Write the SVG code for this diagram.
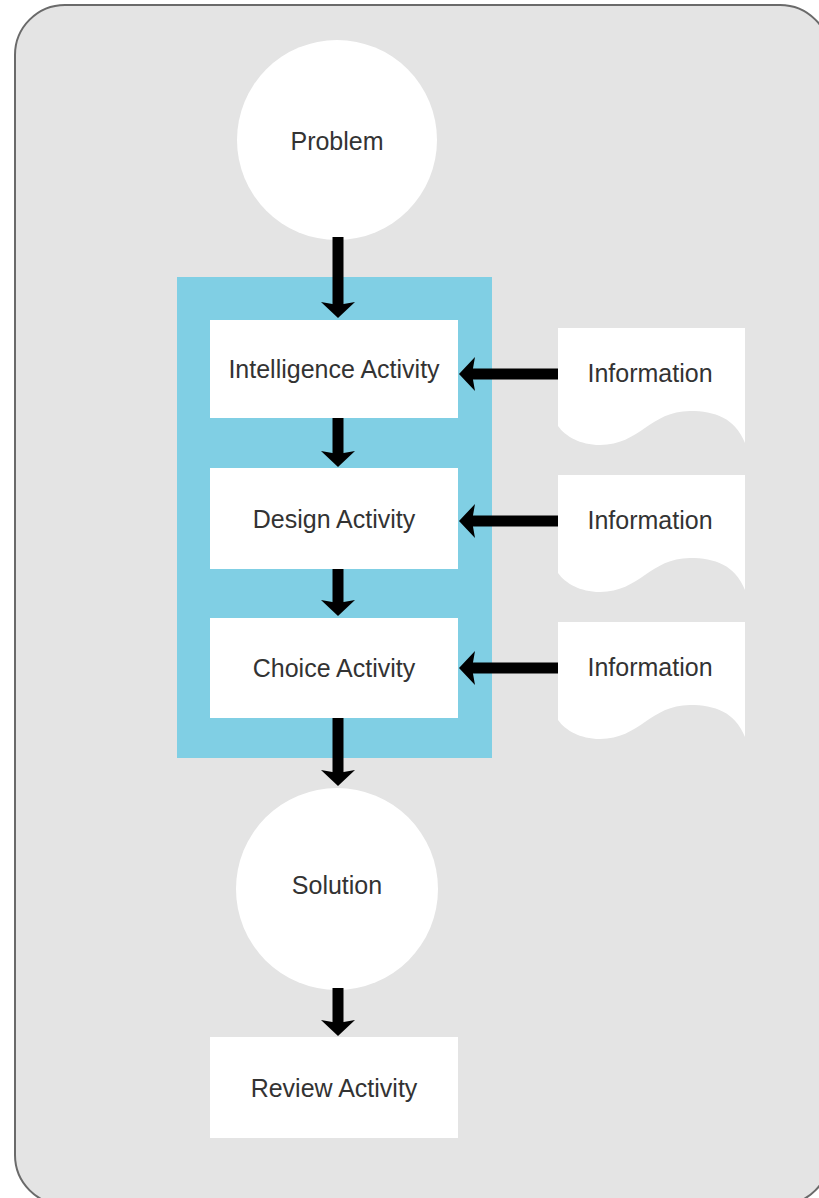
<svg xmlns="http://www.w3.org/2000/svg" width="819" height="1198" viewBox="0 0 819 1198">
  <style>
    .lbl { font-family: "Liberation Sans", Arial, sans-serif; font-size: 25px; fill: #333333; text-anchor: middle; }
    .node { fill: #ffffff; }
    .conn { stroke: #000000; stroke-width: 11; fill: none; marker-end: url(#head); }
  </style>
  <defs>
    <marker id="head" viewBox="0 0 16 34" refX="4" refY="17" markerWidth="16" markerHeight="34" markerUnits="userSpaceOnUse" orient="auto">
      <path d="M0,0 L16,17 L0,34 L3,17 Z" fill="#000000"/>
    </marker>
  </defs>
  <rect id="frame" x="15" y="5" width="815" height="1200" rx="50" ry="50" fill="#e4e4e4" stroke="#6a6a6a" stroke-width="2"/>
  <rect id="decision-process" x="177" y="277" width="315" height="481" fill="#80cfe4"/>

  <g id="problem">
    <circle class="node" cx="337" cy="140" r="100"/>
    <text class="lbl" x="337" y="150">Problem</text>
  </g>
  <g id="intelligence">
    <rect class="node" x="210" y="320" width="248" height="98"/>
    <text class="lbl" x="334" y="378">Intelligence Activity</text>
  </g>
  <g id="design">
    <rect class="node" x="210" y="468" width="248" height="101"/>
    <text class="lbl" x="334" y="528">Design Activity</text>
  </g>
  <g id="choice">
    <rect class="node" x="210" y="618" width="248" height="100"/>
    <text class="lbl" x="334" y="677">Choice Activity</text>
  </g>
  <g id="solution">
    <circle class="node" cx="337" cy="889" r="101"/>
    <text class="lbl" x="337" y="894">Solution</text>
  </g>
  <g id="review">
    <rect class="node" x="210" y="1037" width="248" height="101"/>
    <text class="lbl" x="334" y="1097">Review Activity</text>
  </g>
  <g id="info1">
    <path class="node" d="M558,328 H745 V443 C735,418 715,411 690,411 C650,411 640,445 600,445 C580,445 565,436 558,426 Z"/>
    <text class="lbl" x="650" y="382">Information</text>
  </g>
  <g id="info2">
    <path class="node" d="M558,475 H745 V590 C735,565 715,558 690,558 C650,558 640,592 600,592 C580,592 565,583 558,573 Z"/>
    <text class="lbl" x="650" y="529">Information</text>
  </g>
  <g id="info3">
    <path class="node" d="M558,622 H745 V737 C735,712 715,705 690,705 C650,705 640,739 600,739 C580,739 565,730 558,720 Z"/>
    <text class="lbl" x="650" y="676">Information</text>
  </g>

  <g id="connectors">
    <line class="conn" x1="338" y1="237" x2="338" y2="306"/>
    <line class="conn" x1="338" y1="418" x2="338" y2="455"/>
    <line class="conn" x1="338" y1="569" x2="338" y2="604"/>
    <line class="conn" x1="338" y1="718" x2="338" y2="774"/>
    <line class="conn" x1="338" y1="988" x2="338" y2="1024"/>
    <line class="conn" x1="558" y1="374" x2="471" y2="374"/>
    <line class="conn" x1="558" y1="521" x2="471" y2="521"/>
    <line class="conn" x1="558" y1="668" x2="471" y2="668"/>
  </g>
</svg>
